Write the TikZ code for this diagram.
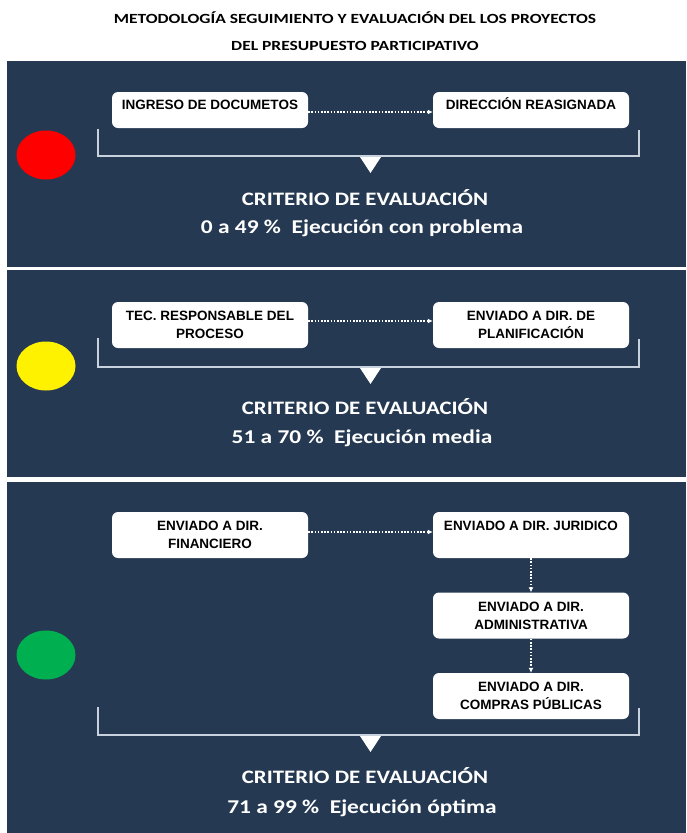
\documentclass[tikz,border=0pt]{standalone}
\usepackage{fontspec}
\setmainfont{Carlito}
\newfontfamily\boxfont{Liberation Sans}
\usetikzlibrary{arrows.meta,shapes.geometric}
\definecolor{navy}{RGB}{37,57,82}
\definecolor{rule}{RGB}{200,210,222}
\definecolor{lampgreen}{RGB}{0,176,80}
\newcommand\wide[2][1.2]{\scalebox{#1}[1]{#2}}
\tikzset{
  panel/.style={fill=navy},
  stepbox/.style={fill=white, rounded corners=6pt, minimum width=196pt, minimum height=46pt,
    inner sep=0pt, align=center, font=\boxfont\bfseries\fontsize{13.5}{18}\selectfont},
  stepone/.style={stepbox, text height=9pt, text depth=10pt, minimum height=36pt},
  flow/.style={white, line width=1.8pt, dash pattern=on 1.6pt off 1.6pt, -{Latex[length=5pt,width=5pt]}},
  bracket/.style={rule, line width=1.3pt},
  lamp/.style={ellipse, minimum width=59pt, minimum height=49pt, inner sep=0pt},
  crit/.style={white, inner sep=0pt, font=\bfseries\fontsize{19}{22}\selectfont},
  rank/.style={white, inner sep=0pt, font=\bfseries\fontsize{19.5}{22}\selectfont},
  heading/.style={inner sep=0pt, font=\bfseries\fontsize{14}{16}\selectfont},
}
\begin{document}
\begin{tikzpicture}[x=1pt,y=-1pt]
  \useasboundingbox[fill=white] (0,0) rectangle (686,833);
  % titulo
  \node[heading] (head1) at (355,18) {\wide[1.25]{METODOLOGÍA SEGUIMIENTO Y EVALUACIÓN DEL LOS PROYECTOS}};
  \node[heading] (head2) at (355,46) {\wide[1.25]{DEL PRESUPUESTO PARTICIPATIVO}};
  % paneles
  \foreach \t/\b in {61/267, 270/477, 482/833}
    \fill[panel] (7,\t) rectangle (686,\b);
  \foreach \a/\b in {129/156, 338/367, 707/735} {
    \draw[bracket] (98,\a) |- (639,\b) -- (639,\a+1);
    \fill[white] (360,\b+1) -- (381,\b+1) -- (370.5,\b+17) -- cycle;
  }
  % semaforo
  \node[lamp, fill=red] (lamp1) at (46,155) {};
  \node[lamp, fill=yellow] (lamp2) at (46,366) {};
  \node[lamp, fill=lampgreen] (lamp3) at (46,655) {};
  % panel 1
  \node[stepone] (ingreso) at (210,110) {INGRESO DE DOCUMETOS};
  \node[stepone] (reasig) at (531,110) {DIRECCIÓN REASIGNADA};
  \draw[flow] ([yshift=-2pt]ingreso.east) -- ([yshift=-2pt]reasig.west);
  % panel 2
  \node[stepbox] (tecnico) at (210,325) {TEC. RESPONSABLE DEL\\PROCESO};
  \node[stepbox] (planif) at (531,325) {ENVIADO A DIR. DE\\PLANIFICACIÓN};
  \draw[flow] ([yshift=4pt]tecnico.east) -- ([yshift=4pt]planif.west);
  % panel 3
  \node[stepbox] (financ) at (210,535) {ENVIADO A DIR.\\FINANCIERO};
  \node[stepbox, text height=9pt, text depth=18pt] (jurid) at (531,535) {ENVIADO A DIR. JURIDICO};
  \node[stepbox] (admin) at (531,615.5) {ENVIADO A DIR.\\ADMINISTRATIVA};
  \node[stepbox] (compras) at (531,696) {ENVIADO A DIR.\\COMPRAS PÚBLICAS};
  \draw[flow] ([yshift=3pt]financ.east) -- ([yshift=3pt]jurid.west);
  \draw[flow] (jurid) -- (admin);
  \draw[flow] (admin) -- (compras);
  % criterios
  \node[crit] (crit1) at (365,198) {\wide{CRITERIO DE EVALUACIÓN}};
  \node[rank] (rank1) at (362,228) {\wide{0 a 49 \%~~Ejecución con problema}};
  \node[crit] (crit2) at (365,407) {\wide{CRITERIO DE EVALUACIÓN}};
  \node[rank] (rank2) at (362,438) {\wide{51 a 70 \%~~Ejecución media}};
  \node[crit] (crit3) at (365,776) {\wide{CRITERIO DE EVALUACIÓN}};
  \node[rank] (rank3) at (362,808) {\wide{71 a 99 \%~~Ejecución óptima}};
\end{tikzpicture}
\end{document}
